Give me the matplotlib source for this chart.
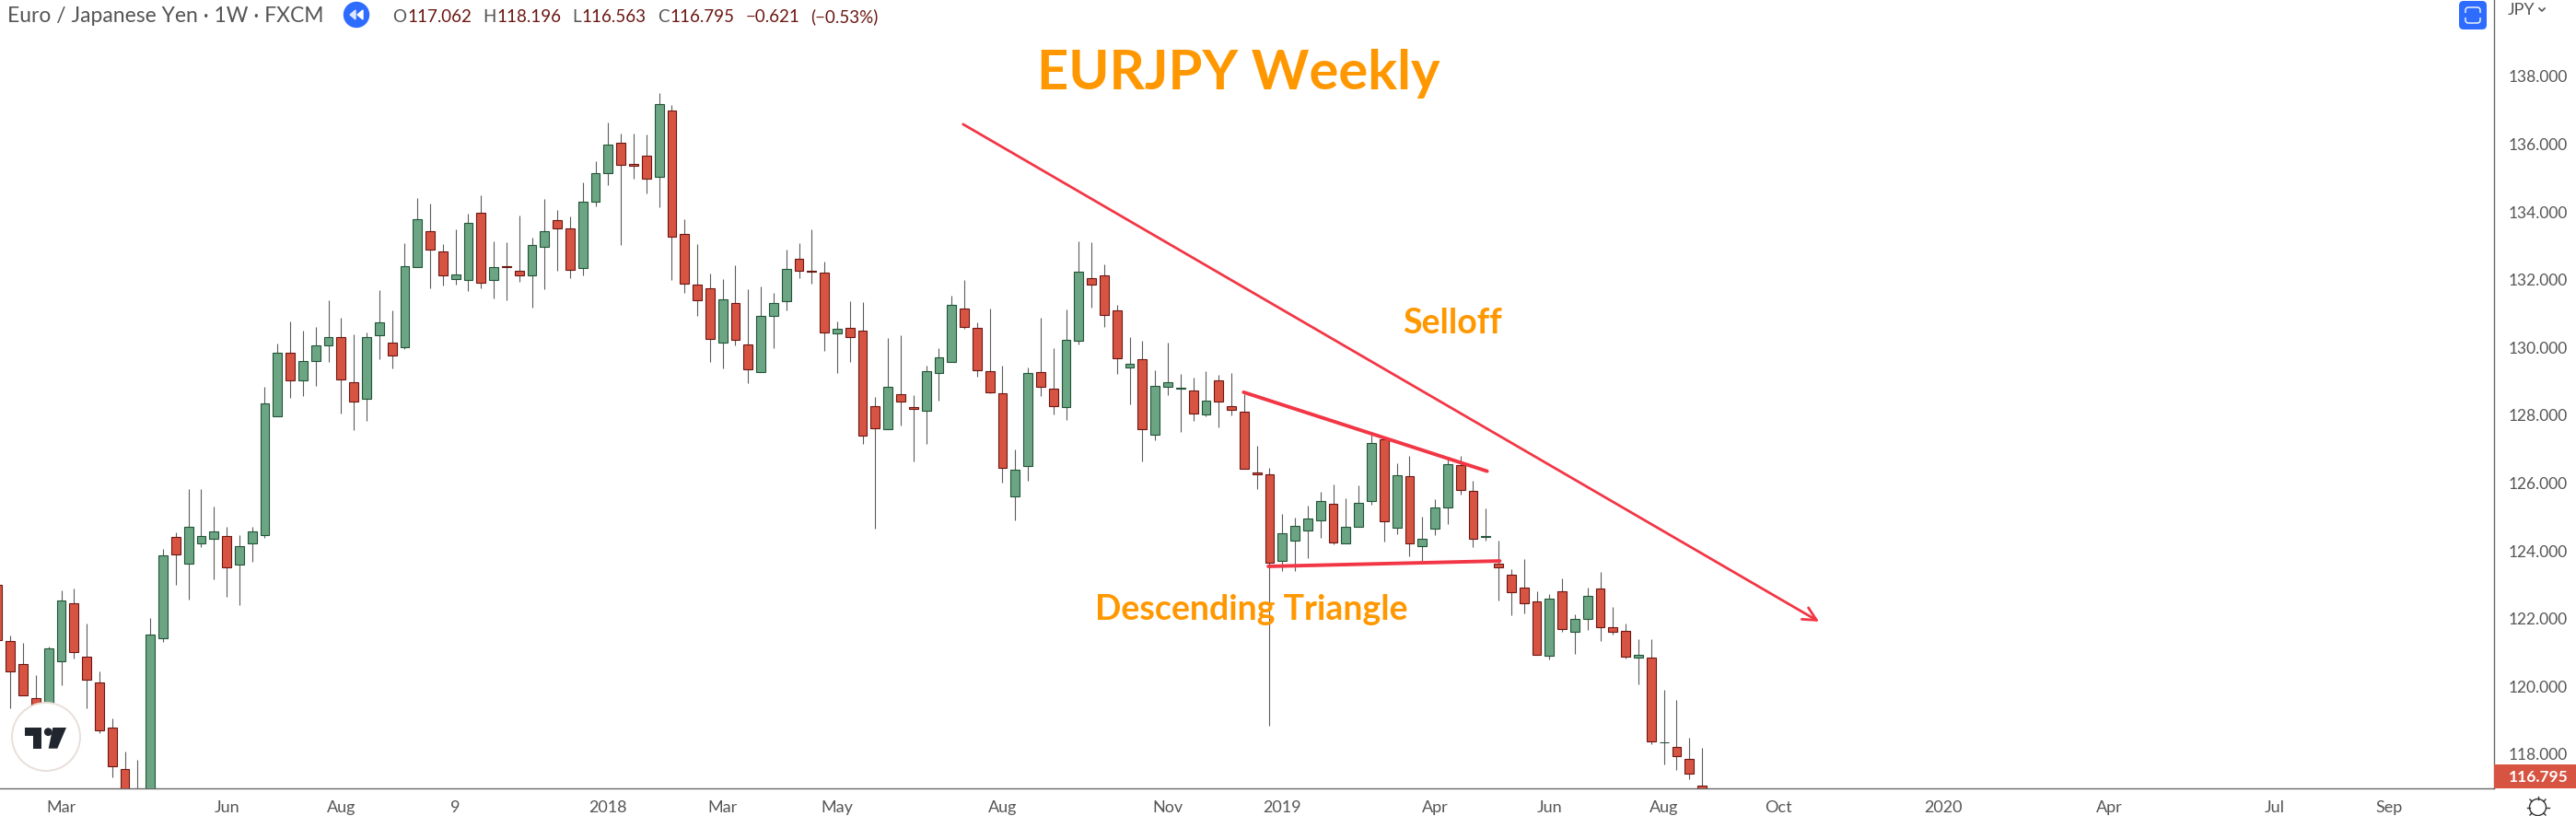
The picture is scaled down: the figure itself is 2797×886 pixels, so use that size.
import matplotlib
matplotlib.use("Agg")
import numpy as np
import matplotlib.pyplot as plt
from matplotlib.patches import Circle, Polygon, FancyBboxPatch, Rectangle

plt.rcParams["font.family"] = ["Lato", "DejaVu Sans"]

# weekly candles, first one is half cut off at the left edge
first_index = -1
opens = [122.99,
    121.33,120.65,119.64,118.96,120.73,122.44,120.87,120.11,118.77,117.55,
    116.90,116.60,121.41,124.40,123.61,124.21,124.35,124.43,123.58,124.21,
    124.45,127.96,129.84,129.02,129.59,130.05,130.30,128.97,128.48,130.35,
    130.14,130.00,132.36,133.42,132.83,132.01,131.98,133.97,131.98,132.39,
    132.26,132.12,132.96,133.75,133.51,132.34,134.30,135.14,136.03,135.41,
    135.65,135.03,136.99,133.34,131.85,131.74,130.14,131.30,130.08,129.27,
    130.92,131.36,132.61,132.26,132.20,130.41,130.57,130.49,128.26,127.58,
    128.61,128.23,128.12,129.24,129.56,131.14,130.57,129.29,128.64,125.60,
    126.49,129.27,128.78,128.23,130.19,132.04,132.12,131.09,129.40,129.65,
    127.42,128.83,128.78,128.72,128.02,129.02,128.26,128.10,126.30,126.25,
    123.69,124.29,124.59,124.89,125.38,124.21,124.70,125.46,127.28,124.67,
    126.19,124.13,124.65,125.27,126.52,125.76,124.40,123.61,123.29,122.91,
    122.50,120.89,122.80,121.60,121.98,122.88,121.74,121.63,120.84,120.84,
    118.34,118.20,117.85,117.062]
highs = [123.10,
    121.50,121.28,120.32,121.17,122.83,122.89,121.85,120.44,119.06,118.08,
    117.83,122.02,124.06,124.55,125.82,125.82,125.31,124.71,124.46,124.71,
    128.84,130.12,130.77,130.50,130.61,131.40,130.88,130.39,130.44,131.69,
    131.10,133.08,134.41,134.25,133.05,133.49,133.95,134.49,133.13,133.11,
    133.90,133.24,134.38,134.06,133.87,134.87,135.50,136.64,136.32,136.32,
    136.29,137.51,137.16,133.79,133.05,132.18,132.02,132.43,131.72,131.80,
    131.61,132.89,133.08,133.49,132.54,130.77,131.37,131.34,128.54,130.28,
    130.36,128.59,129.46,129.98,131.53,131.99,130.74,131.15,129.46,126.99,
    129.41,130.88,129.98,131.12,133.13,133.11,132.45,131.26,130.31,130.20,
    129.33,130.14,129.22,129.11,129.29,129.20,129.25,128.61,127.10,126.45,
    125.09,124.98,125.33,125.74,125.96,125.55,125.93,127.44,127.35,126.58,
    126.80,125.01,125.52,126.71,126.80,126.07,125.25,124.30,123.46,123.76,
    122.81,122.72,123.19,122.13,122.91,123.38,122.34,121.85,121.39,121.39,
    119.90,119.60,118.48,118.196]
lows = [121.20,
    119.36,119.73,118.69,118.87,120.04,120.83,119.34,118.63,117.32,116.52,
    116.40,116.40,121.32,122.99,122.57,124.11,123.16,122.64,122.40,123.68,
    124.39,127.96,128.50,128.58,128.88,129.56,128.06,127.57,127.84,129.66,
    129.39,129.96,132.36,131.76,131.84,131.87,131.68,131.76,131.46,131.40,
    131.95,131.19,131.73,132.27,132.06,132.14,134.18,134.80,133.03,134.99,
    134.56,134.15,132.00,131.62,130.94,129.58,129.37,130.07,128.96,129.27,
    129.99,131.10,132.06,131.89,129.91,129.26,129.56,127.16,124.64,127.58,
    127.71,126.65,127.16,128.44,129.56,130.56,129.15,128.66,126.02,124.91,
    126.08,128.58,128.03,127.87,130.10,131.19,130.61,129.23,128.33,126.65,
    127.27,128.60,127.52,127.84,127.96,127.63,128.01,126.41,125.81,118.85,
    123.41,123.41,123.79,124.39,124.20,124.21,124.70,125.37,124.28,124.50,
    123.85,123.69,124.45,124.80,125.67,124.12,124.31,122.52,122.11,122.16,
    120.92,120.80,121.62,120.97,121.67,121.35,121.54,120.81,120.07,118.28,
    117.70,117.54,117.27,116.563]
closes = [121.37,
    120.43,119.73,118.96,121.11,122.52,121.00,120.19,118.69,117.63,116.79,
    116.60,121.52,123.86,123.88,124.70,124.43,124.56,123.50,124.13,124.56,
    128.34,129.84,129.02,129.59,130.05,130.30,129.05,128.40,130.30,130.73,
    129.76,132.39,133.78,132.88,132.12,132.15,133.67,131.90,132.36,132.36,
    132.12,133.02,133.42,133.51,132.28,134.29,135.14,135.98,135.38,135.36,
    134.97,137.18,133.26,131.88,131.39,130.24,131.41,130.22,129.35,130.92,
    131.30,132.31,132.26,132.25,130.43,130.54,130.30,127.39,127.61,128.83,
    128.40,128.18,129.29,129.70,131.25,130.60,129.32,128.69,126.44,126.38,
    129.24,128.83,128.26,130.22,132.23,131.87,130.95,129.67,129.51,127.58,
    128.88,128.97,128.80,128.04,128.42,128.40,128.15,126.41,126.25,123.64,
    124.51,124.73,124.95,125.46,124.24,124.70,125.41,127.17,124.86,126.22,
    124.21,124.35,125.27,126.55,125.79,124.35,124.43,123.50,122.77,122.44,
    120.92,122.58,121.68,121.98,122.66,121.74,121.60,120.87,120.92,118.37,
    118.36,117.93,117.42,116.795]

# x axis labels and the candle they sit under
date_ticks = [4, 17, 26, 35, 47, 56, 65, 78, 91, 100, 112, 121, 130, 139, 152, 165, 178, 187]
date_labels = ["Mar", "Jun", "Aug", "9", "2018", "Mar", "May", "Aug", "Nov", "2019",
               "Apr", "Jun", "Aug", "Oct", "2020", "Apr", "Jul", "Sep"]
price_ticks = [118, 120, 122, 124, 126, 128, 130, 132, 134, 136, 138]

# drawn trend lines as (candle, price)
selloff_line = [(74.9, 136.59), (142.2, 121.91)]
triangle_top = [(96.96, 128.68), (116.1, 126.35)]
triangle_bottom = [(98.9, 123.54), (117.1, 123.70)]

W, H = 2797, 886
GREEN, GREEN_EDGE = "#6BA583", "#225437"
RED, RED_EDGE = "#D75442", "#6B1713"
WICK = "#5C5C5C"
TEXT = "#555555"
ORANGE = "#FF9800"
LINE_RED = "#F23645"
BLUE = "#2E6BFF"

fig = plt.figure(figsize=(W / 100, H / 100), dpi=100, facecolor="white")
ax = fig.add_axes([0, (H - 856.3) / H, 2708 / W, 856.3 / H])

xs = np.arange(len(opens)) + first_index
opens = np.array(opens)
closes = np.array(closes)
up = closes >= opens
ax.vlines(xs, lows, highs, color=WICK, lw=0.8, zorder=2)
ax.bar(xs[up], (closes - opens)[up], bottom=opens[up], width=0.71,
       color=GREEN, edgecolor=GREEN_EDGE, lw=0.8, zorder=3)
ax.bar(xs[~up], (closes - opens)[~up], bottom=opens[~up], width=0.71,
       color=RED, edgecolor=RED_EDGE, lw=0.8, zorder=3)

ax.set_xlim(-0.818, 195.27)
ax.set_ylim(116.98, 140.256)
ax.yaxis.tick_right()
ax.set_yticks(price_ticks)
ax.set_yticklabels(["%.3f" % p for p in price_ticks])
ax.set_xticks(date_ticks)
ax.set_xticklabels(date_labels)
ax.tick_params(axis="y", length=0, pad=11, labelsize=12.5, labelcolor=TEXT)
ax.tick_params(axis="x", length=0, pad=9, labelsize=13, labelcolor=TEXT)
for side in ["top", "left"]:
    ax.spines[side].set_visible(False)
for side in ["right", "bottom"]:
    ax.spines[side].set_color("#666666")
    ax.spines[side].set_linewidth(1.0)

# trend lines
ax.annotate("", xy=selloff_line[1], xytext=selloff_line[0], zorder=5,
            arrowprops=dict(arrowstyle="->", color=LINE_RED, lw=2.0, shrinkA=0, shrinkB=0,
                            mutation_scale=26))
for line in [triangle_top, triangle_bottom]:
    ax.plot([line[0][0], line[1][0]], [line[0][1], line[1][1]], color=LINE_RED, lw=2.8,
            solid_capstyle="round", zorder=5)

# overlay in image pixels for the tradingview chrome and the notes
top = fig.add_axes([0, 0, 1, 1], facecolor="none")
top.set_xlim(0, W)
top.set_ylim(H, 0)
top.axis("off")

top.text(1345, 80, "EURJPY Weekly", color=ORANGE, fontsize=43, fontweight="bold", ha="center", va="center")
top.text(1577, 351, "Selloff", color=ORANGE, fontsize=27, fontweight="bold", ha="center", va="center")
top.text(1359, 662, "Descending Triangle", color=ORANGE, fontsize=27, fontweight="bold", ha="center", va="center")

top.text(8, 17, "Euro / Japanese Yen \u00b7 1W \u00b7 FXCM", color=TEXT, fontsize=16.5, va="center")
top.add_patch(Circle((387, 16), 13.5, color=BLUE))
top.add_patch(Polygon([(380, 16), (386, 11), (386, 21)], color="#DDE8FF"))
top.add_patch(Polygon([(388, 16), (394, 11), (394, 21)], color="white"))

# O H L C readout
renderer = fig.canvas.get_renderer()
cursor = 426
pieces = [("O", "117.062"), ("H", "118.196"), ("L", "116.563"), ("C", "116.795"),
          ("", "\u22120.621"), ("", "(\u22120.53%)")]
for letter, value in pieces:
    if letter:
        t = top.text(cursor, 18, letter, color=TEXT, fontsize=13.5, va="center")
        cursor += t.get_window_extent(renderer).width + 1
    t = top.text(cursor, 18, value, color="#6B1713", fontsize=13.5, va="center")
    cursor += t.get_window_extent(renderer).width + 12

# top right button and currency
top.add_patch(FancyBboxPatch((2673, 4), 24, 25, boxstyle="round,pad=3,rounding_size=5", color=BLUE, lw=0))
top.add_patch(FancyBboxPatch((2677, 8), 16, 17, boxstyle="round,pad=0,rounding_size=3",
                             fc="none", ec="white", lw=1.0))
top.add_patch(Rectangle((2675, 14), 20, 5, color=BLUE, lw=0))
top.text(2723, 11, "JPY", color=TEXT, fontsize=13, va="center")
top.plot([2757, 2760, 2763], [9, 12, 9], color=TEXT, lw=1.2)

# last price tag
top.add_patch(Rectangle((2708, 830), 89, 26, color=RED, lw=0))
top.text(2724, 844, "116.795", color="white", fontsize=12.5, fontweight="bold", va="center")

# settings gear
top.add_patch(Circle((2755.5, 876.5), 9, fc="white", ec="#333333", lw=1.0))
for a in np.arange(0, 360, 45):
    r = np.radians(a)
    top.plot([2755.5 + 9 * np.cos(r), 2755.5 + 12 * np.cos(r)],
             [876.5 + 9 * np.sin(r), 876.5 + 12 * np.sin(r)], color="#333333", lw=1.0)

# tradingview badge
top.add_patch(Circle((50, 800), 37, fc="white", ec="#E8DFDA", lw=1.4, zorder=6))
top.add_patch(Polygon([(26.7, 790), (45, 790), (45, 812.7), (36, 812.7), (36, 799), (26.7, 799)],
                      color="#21252E", lw=0, zorder=7))
top.add_patch(Circle((52.3, 794.7), 4.4, color="#21252E", lw=0, zorder=7))
top.add_patch(Polygon([(57.3, 790), (72, 790), (62.3, 812.7), (52.7, 812.7)],
                      color="#21252E", lw=0, zorder=7))

fig.savefig("out.png", dpi=100, facecolor="white")
